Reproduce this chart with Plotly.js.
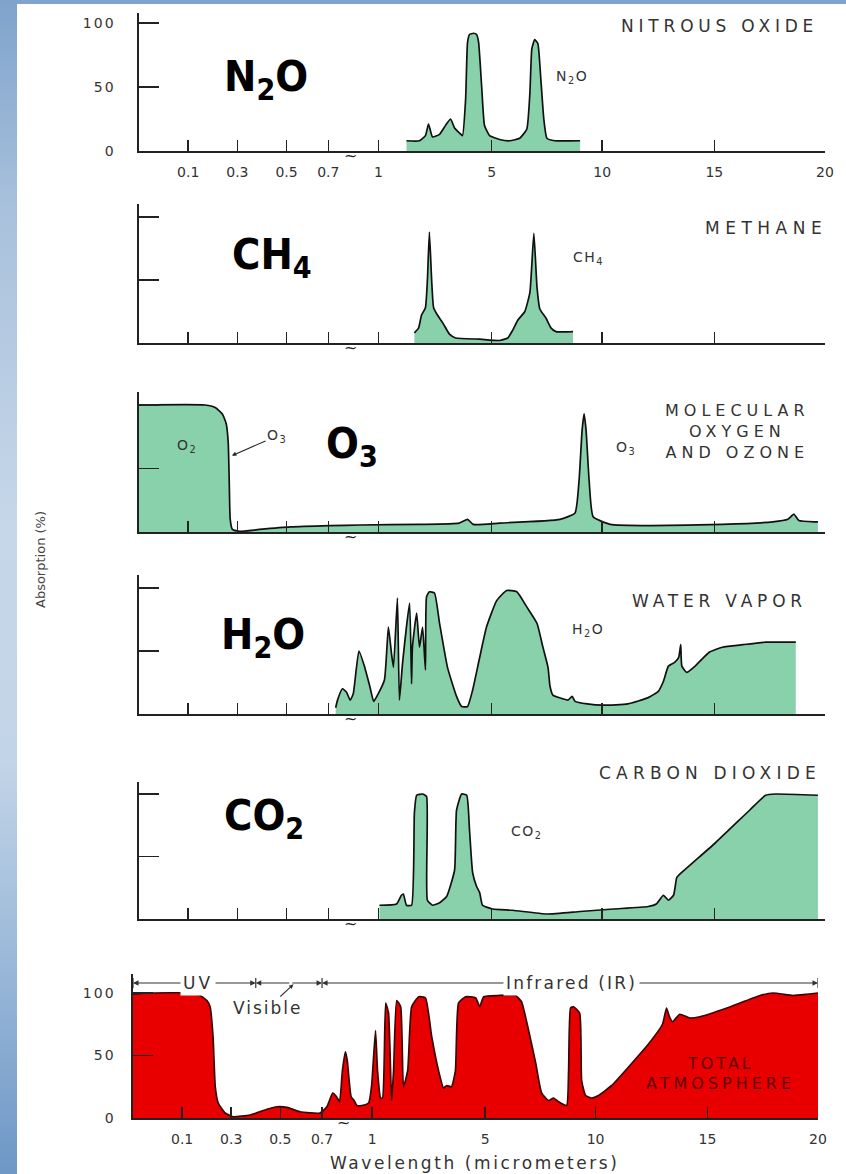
<!DOCTYPE html>
<html>
<head>
<meta charset="utf-8">
<script src="https://cdn.plot.ly/plotly-3.0.1.min.js"></script>
<style>
  html, body { margin: 0; padding: 0; }
  #wrap {
    position: relative; width: 846px; height: 1174px; overflow: hidden;
    background: linear-gradient(180deg, #7fa3cc 0%, #a9c1dc 18%, #c6d7e9 45%, #c2d4e7 65%, #93b3d6 85%, #6e97c6 100%);
  }
  #sheet { position: absolute; left: 17px; top: 4px; right: 0; bottom: 0; background: #fff; }
  #chart { position: absolute; left: 0; top: 0; width: 846px; height: 1174px; }
</style>
</head>
<body>
<div id="wrap"><div id="sheet"></div><div id="chart"></div></div>
<script>
// Wavelength axis: broken scale, roughly logarithmic below 1 um and linear above.
const wavelengthKnots = [0, 0.1, 0.3, 0.5, 0.7, 1, 5, 10, 15, 20];
const axisKnots       = [0, 1, 2, 3, 3.85, 4.87, 7.17, 9.42, 11.7, 13.95];

const tickWaves  = [0.1, 0.3, 0.5, 0.7, 1, 5, 10, 15, 20];
const tickLabels = ['0.1', '0.3', '0.5', '0.7', '1', '5', '10', '15', '20'];
const absTicks      = [0, 50, 100];
const absTickLabels = ['0', '50', '100'];
const breakWave = 0.83;
const regionBounds = [0, 0.4, 0.7, 20];   // UV | visible | infrared

// Absorption spectra (wavelength in micrometers, absorption in %)
const n2oWave = [1.99, 2.45, 2.66, 2.77, 2.91, 3.16, 3.37, 3.55, 3.69, 3.87, 3.97, 4.08, 4.15, 4.22, 4.36, 4.47, 4.54, 4.65, 4.75, 4.93, 5.36, 5.82, 6.27, 6.59, 6.73, 6.82, 6.95, 7.09, 7.23, 7.36, 7.50, 7.86, 9.00];
const n2oAbs  = [8, 8, 12, 21, 11, 13, 20, 25, 18, 14, 12, 40, 85, 91, 92, 91, 85, 50, 20, 12, 9, 8, 10, 17, 45, 80, 87, 84, 55, 25, 10, 8, 8];

const ch4Wave = [2.27, 2.42, 2.52, 2.66, 2.73, 2.80, 2.88, 2.95, 3.09, 3.30, 3.51, 3.73, 4.58, 5.36, 5.73, 5.95, 6.18, 6.50, 6.73, 6.91, 7.05, 7.18, 7.45, 7.68, 7.91, 8.68];
const ch4Abs  = [8, 12, 22, 28, 50, 88, 50, 28, 22, 15, 7, 4, 3, 2, 4, 10, 18, 25, 40, 87, 45, 27, 20, 12, 9, 9];

const o3Wave = [0, 0.169, 0.21, 0.239, 0.255, 0.263, 0.267, 0.271, 0.28, 0.31, 0.39, 0.52, 0.71, 0.89, 2.45, 3.85, 4.15, 4.35, 5.36, 8.09, 8.77, 8.95, 9.09, 9.18, 9.27, 9.41, 9.59, 10.36, 12.18, 15.36, 17.64, 18.32, 18.6, 18.82, 19.55, 19.68];
const o3Abs  = [100, 100, 98, 93, 85, 70, 40, 10, 2, 0.5, 2, 4, 5, 5.5, 6, 7, 10, 6, 7, 10, 15, 40, 80, 93, 80, 40, 12, 6, 5, 6, 8, 10, 14, 9, 8, 8];

const h2oWave = [0.744, 0.755, 0.784, 0.808, 0.831, 0.849, 0.883, 0.918, 0.948, 0.971, 0.99, 1.21, 1.35, 1.46, 1.53, 1.67, 1.74, 1.85, 2.10, 2.17, 2.20, 2.35, 2.45, 2.56, 2.66, 2.70, 2.80, 2.98, 3.16, 3.44, 3.76, 3.94, 4.15, 4.33, 4.58, 4.82, 5.23, 5.68, 6.14, 6.59, 7.05, 7.32, 7.55, 7.64, 7.77, 8.23, 8.45, 8.64, 8.77, 9.32, 10.05, 11.14, 12.05, 12.50, 12.73, 12.95, 13.23, 13.41, 13.50, 13.55, 13.77, 14.14, 14.77, 15.36, 16.27, 17.32, 18.68];
const h2oAbs  = [5, 11, 20, 17.5, 11, 16, 50, 37, 22, 10, 14, 27, 69, 48, 37, 92, 11, 40, 88, 24, 53, 80, 53, 69, 35, 93, 97, 96, 72, 37, 14, 6, 6, 19, 45, 69, 90, 98, 97, 85, 72, 53, 37, 22, 15, 12, 11, 14, 10, 8, 7, 8, 13, 18, 26, 38, 41, 45, 55, 38, 33, 38, 49, 53, 55, 57, 57];

const co2Wave = [1.035, 1.64, 1.81, 1.88, 1.99, 2.17, 2.27, 2.35, 2.56, 2.70, 2.73, 2.91, 3.16, 3.41, 3.69, 3.76, 3.94, 4.12, 4.22, 4.33, 4.47, 4.58, 4.68, 5.05, 5.95, 7.50, 9.00, 10.50, 12.05, 12.41, 12.73, 12.95, 13.18, 13.32, 13.41, 15.05, 16.59, 17.32, 17.77, 19.68];
const co2Abs  = [11, 12, 19, 20, 11, 11, 85, 99, 100, 98, 15, 11, 13, 18, 39, 87, 100, 99, 71, 37, 26, 21, 11, 8, 7, 4, 6, 8, 10, 12, 19, 15, 19, 33, 35, 61, 87, 99, 100, 99];

const totalWave = [0, 0.035, 0.132, 0.173, 0.201, 0.214, 0.226, 0.235, 0.247, 0.275, 0.307, 0.377, 0.446, 0.487, 0.532, 0.594, 0.69, 0.729, 0.764, 0.787, 0.805, 0.822, 0.84, 0.851, 0.874, 0.892, 0.909, 0.938, 0.979, 0.997, 1.12, 1.19, 1.30, 1.37, 1.48, 1.58, 1.69, 1.76, 1.87, 2.01, 2.11, 2.26, 2.40, 2.65, 2.89, 3.11, 3.35, 3.53, 3.64, 3.81, 3.95, 4.06, 4.31, 4.67, 4.81, 4.95, 5.61, 6.38, 6.65, 6.97, 7.29, 7.56, 7.87, 8.10, 8.33, 8.69, 8.78, 8.87, 9.00, 9.28, 9.37, 9.55, 9.82, 10.13, 10.72, 11.63, 12.40, 12.99, 13.17, 13.30, 13.44, 13.76, 14.21, 14.66, 15.88, 17.38, 17.96, 18.87, 19.50, 20];
const totalAbs  = [99, 100, 100, 98, 94, 89, 65, 25, 12, 4, 1, 2.4, 7, 9, 8.5, 5, 4, 9, 20, 17, 13, 38, 53, 46, 17, 14, 10, 10, 12, 26, 70, 38, 16, 16, 92, 84, 14, 38, 94, 89, 25, 38, 89, 97, 96, 65, 38, 24, 26, 25, 38, 92, 97, 96, 89, 97, 98, 98, 93, 70, 44, 20, 14, 16, 13, 10, 38, 88, 89, 84, 30, 18, 16, 18, 26, 44, 60, 75, 88, 81, 77, 83, 80, 81, 88, 98, 100, 98, 99, 100];

// Piecewise-linear position of a wavelength on the broken axis
function toAxis(w) {
  for (let i = 1; i < wavelengthKnots.length; i++) {
    if (w <= wavelengthKnots[i]) {
      const w0 = wavelengthKnots[i - 1], w1 = wavelengthKnots[i];
      const a0 = axisKnots[i - 1], a1 = axisKnots[i];
      return a0 + (w - w0) / (w1 - w0) * (a1 - a0);
    }
  }
  return axisKnots[axisKnots.length - 1];
}

const W = 846, H = 1174;
const px = x => x / W, py = y => 1 - y / H;
const SANS = 'DejaVu Sans, Verdana, sans-serif';
const BIG = 'Liberation Sans Narrow, DejaVu Sans Condensed, Arial Narrow, sans-serif';
const INK = '#222';
const GREEN = 'rgb(136,209,170)';
const RED = 'rgb(232,0,0)';
const spaced = (t, s) => t.split('<br>').map(l => '<span style="letter-spacing:' + s + 'px">' + l + '</span>').join('<br>');

// Panel frames: pixel rows of the 0 and 100 % levels, top of the value axis
const panels = [
  { wave: n2oWave,   abs: n2oAbs,   fill: GREEN, line: '#111',    zeroRow: 151,  fullRow: 23,  yMax: 108, labels: true,  left: 139, right: 825 },
  { wave: ch4Wave,   abs: ch4Abs,   fill: GREEN, line: '#111',    zeroRow: 343,  fullRow: 217, yMax: 110, labels: false, left: 139, right: 825 },
  { wave: o3Wave,    abs: o3Abs,    fill: GREEN, line: '#111',    zeroRow: 532,  fullRow: 405, yMax: 110, labels: false, left: 139, right: 825 },
  { wave: h2oWave,   abs: h2oAbs,   fill: GREEN, line: '#111',    zeroRow: 714,  fullRow: 588, yMax: 110, labels: false, left: 139, right: 825 },
  { wave: co2Wave,   abs: co2Abs,   fill: GREEN, line: '#111',    zeroRow: 919,  fullRow: 794, yMax: 110, labels: false, left: 139, right: 825 },
  { wave: totalWave, abs: totalAbs, fill: RED,   line: '#3a0505', zeroRow: 1118, fullRow: 993, yMax: 115, labels: true,  left: 133, right: 818 }
];

const traces = [];
const layout = {
  width: W, height: H,
  margin: { l: 0, r: 0, t: 0, b: 0 },
  paper_bgcolor: 'rgba(0,0,0,0)', plot_bgcolor: 'rgba(0,0,0,0)',
  showlegend: false, hovermode: false,
  annotations: [], shapes: []
};

panels.forEach((p, i) => {
  const s = i === 0 ? '' : String(i + 1);
  const topRow = p.zeroRow - (p.zeroRow - p.fullRow) * p.yMax / 100;
  traces.push({
    type: 'scatter', mode: 'lines',
    x: p.wave.map(toAxis), y: p.abs,
    xaxis: 'x' + s, yaxis: 'y' + s,
    fill: 'tozeroy', fillcolor: p.fill,
    line: { color: p.line, width: 1.7, shape: 'spline', smoothing: 0.45 }
  });
  layout['xaxis' + s] = {
    domain: [px(p.left), px(p.right)], anchor: 'y' + s,
    range: [0, axisKnots[axisKnots.length - 1]],
    tickmode: 'array', tickvals: tickWaves.map(toAxis), ticktext: tickLabels,
    showticklabels: p.labels, ticks: 'inside', ticklen: 11, tickwidth: 1.5, tickcolor: INK,
    tickfont: { family: SANS, size: 14, color: '#333' }, ticklabelstandoff: 8,
    showline: true, linecolor: INK, linewidth: 1.6,
    showgrid: false, zeroline: false, fixedrange: true
  };
  layout['yaxis' + s] = {
    domain: [py(p.zeroRow), py(topRow)], anchor: 'x' + s,
    range: [0, p.yMax],
    tickmode: 'array',
    tickvals: p.labels ? absTicks : absTicks.slice(1),
    ticktext: (p.labels ? absTickLabels : absTickLabels.slice(1)).map(t => spaced(t, 2)),
    showticklabels: p.labels, ticks: 'inside', ticklen: 20, tickwidth: 1.5, tickcolor: INK,
    tickfont: { family: SANS, size: 14, color: '#333' }, ticklabelstandoff: p.left === 139 ? 19 : 13,
    showline: true, linecolor: INK, linewidth: 1.6,
    showgrid: false, zeroline: false, fixedrange: true
  };
  // axis break mark
  layout.annotations.push({
    text: '~', xref: 'x' + s, yref: 'y' + s, x: toAxis(breakWave), y: 0,
    showarrow: false, yanchor: 'middle', yshift: -4,
    font: { family: SANS, size: 16, color: INK }
  });
});

function label(text, x, y, o) {
  return Object.assign({
    text: text, x: px(x), y: py(y), xref: 'paper', yref: 'paper', showarrow: false,
    xanchor: 'center', yanchor: 'middle',
    font: { family: SANS, size: 16, color: '#333' }
  }, o || {});
}
const titleFont = { family: SANS, size: 17, color: '#333' };
const smallFont = { family: SANS, size: 14, color: '#333' };
const bigFont = { family: BIG, size: 43, color: '#000', weight: 'bold' };
const totalFont = { family: SANS, size: 16, color: '#5e0000' };

layout.annotations.push(
  // panel titles
  label(spaced('NITROUS OXIDE', 4.8), 820, 26, { xanchor: 'right', font: titleFont }),
  label(spaced('METHANE', 5.5), 829, 228, { xanchor: 'right', font: titleFont }),
  label(spaced('MOLECULAR<br>OXYGEN<br>AND OZONE', 5), 737, 431, { font: { family: SANS, size: 16, color: '#333' } }),
  label(spaced('WATER VAPOR', 4.8), 809, 601, { xanchor: 'right', font: titleFont }),
  label(spaced('CARBON DIOXIDE', 5.2), 823, 773, { xanchor: 'right', font: titleFont }),
  label(spaced('TOTAL', 3), 720, 1063, { font: totalFont }),
  label(spaced('ATMOSPHERE', 4), 720, 1083, { font: totalFont }),

  // gas formulas next to the bands
  label(spaced('N<sub>2</sub>O', 1.5), 572, 77, { font: smallFont }),
  label(spaced('CH<sub>4</sub>', 1.5), 588, 258, { font: smallFont }),
  label(spaced('O<sub>2</sub>', 1.5), 187, 446, { font: smallFont }),
  label(spaced('O<sub>3</sub>', 1.5), 626, 448, { font: smallFont }),
  label(spaced('H<sub>2</sub>O', 1.5), 588, 630, { font: smallFont }),
  label(spaced('CO<sub>2</sub>', 1.5), 527, 832, { font: smallFont }),
  {
    text: spaced('O<sub>3</sub>', 1.5), xref: 'paper', yref: 'paper', x: px(231), y: py(456),
    showarrow: true, ax: 46, ay: -20, arrowhead: 2, arrowsize: 0.8, arrowwidth: 1.1,
    arrowcolor: '#222', standoff: 1, font: smallFont
  },

  // large formula labels
  label('N<sub>2</sub>O', 222, 79, { xanchor: 'left', font: bigFont }),
  label('CH<sub>4</sub>', 230, 257, { xanchor: 'left', font: bigFont }),
  label('O<sub>3</sub>', 324, 446, { xanchor: 'left', font: bigFont }),
  label('H<sub>2</sub>O', 219, 637, { xanchor: 'left', font: bigFont }),
  label('CO<sub>2</sub>', 222, 818, { xanchor: 'left', font: bigFont }),

  // axis titles
  label('Absorption (%)', 41, 560, { textangle: -90, font: { family: SANS, size: 13, color: '#444' } }),
  label(spaced('Wavelength (micrometers)', 2.6), 475, 1163, { font: { family: SANS, size: 17, color: '#333' } })
);

// spectral region bracket above the total-atmosphere panel
const bracketLevel = 108;
function bracketArrow(fromW, toW) {
  return {
    text: '', xref: 'x6', yref: 'y6', axref: 'x6', ayref: 'y6',
    x: toAxis(toW), y: bracketLevel, ax: toAxis(fromW), ay: bracketLevel,
    showarrow: true, arrowhead: 2, arrowsize: 1, arrowwidth: 1.1, arrowcolor: '#333', standoff: 0
  };
}
const uvCenter = 0.165, visCenter = 0.55, irCenter = 8.9;
layout.annotations.push(
  bracketArrow(uvCenter, regionBounds[0]), bracketArrow(uvCenter, regionBounds[1]),
  bracketArrow(visCenter, regionBounds[1]), bracketArrow(visCenter, regionBounds[2]),
  bracketArrow(irCenter, regionBounds[2]), bracketArrow(irCenter, regionBounds[3]),
  {
    text: spaced('UV', 3), xref: 'x6', yref: 'y6', x: toAxis(uvCenter), y: bracketLevel,
    showarrow: false, bgcolor: '#fff', borderpad: 2, font: { family: SANS, size: 17, color: '#333' }
  },
  {
    text: spaced('Infrared (IR)', 2.2), xref: 'x6', yref: 'y6', x: toAxis(irCenter), y: bracketLevel,
    showarrow: false, bgcolor: '#fff', borderpad: 2, font: { family: SANS, size: 17, color: '#333' }
  },
  {
    text: spaced('Visible', 2), xref: 'x6', yref: 'y6', x: toAxis(0.57), y: bracketLevel,
    showarrow: true, ax: -27, ay: 25, arrowhead: 2, arrowsize: 0.8, arrowwidth: 1.1,
    arrowcolor: '#333', standoff: 2, font: { family: SANS, size: 17, color: '#333' }
  }
);
regionBounds.forEach(w => {
  layout.shapes.push({
    type: 'line', xref: 'x6', yref: 'y6', x0: toAxis(w), x1: toAxis(w), y0: 104, y1: 112,
    line: { color: '#333', width: 1.2 }
  });
});

Plotly.newPlot('chart', traces, layout, { staticPlot: true });
</script>
</body>
</html>
